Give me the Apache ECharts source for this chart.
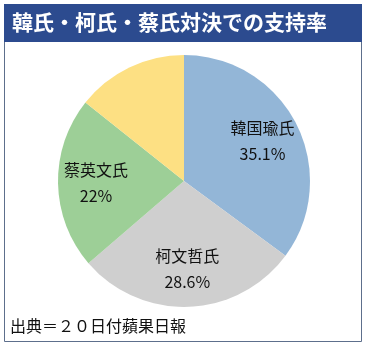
<!DOCTYPE html>
<html>
<head>
<meta charset="utf-8">
<script src="https://cdn.jsdelivr.net/npm/echarts@6/dist/echarts.min.js"></script>
<style>
  html, body { margin: 0; padding: 0; background: #ffffff; }
  #chart { width: 368px; height: 348px; }
</style>
</head>
<body>
<div id="chart"></div>
<script>
// Support shares in a three-way race
const candidates = ['韓国瑜氏', '柯文哲氏', '蔡英文氏', 'その他'];
const shares = [35.1, 28.6, 22, 14.3];
const sliceColors = ['#93b6d7', '#cfcfcf', '#9dcf97', '#fde083'];
const labelled = [true, true, true, false];

const titleText = '韓氏・柯氏・蔡氏対決での支持率';
const sourceText = '出典＝２０日付蘋果日報';

const FONT = '"Noto Sans CJK JP", "Noto Sans", sans-serif';

const chart = echarts.init(document.getElementById('chart'), null, { renderer: 'canvas' });

const sliceData = candidates.map((name, i) => ({
  name,
  value: shares[i],
  itemStyle: { color: sliceColors[i] }
}));

// Transparent ring on top of the pie, used only to place labels further out
const labelData = candidates.map((name, i) => ({
  name,
  value: shares[i],
  itemStyle: { color: 'rgba(0,0,0,0)' },
  label: { show: labelled[i] }
}));

chart.setOption({
  animation: false,
  graphic: [
    {
      type: 'rect',
      shape: { x: 4.5, y: 4.5, width: 357, height: 337 },
      style: { fill: '#ffffff', stroke: '#5d6f8c', lineWidth: 1 },
      z: 0
    },
    {
      type: 'rect',
      shape: { x: 4, y: 4, width: 358, height: 38 },
      style: { fill: '#2c4b8f' },
      z: 1
    },
    {
      type: 'text',
      left: 12,
      top: 12,
      style: {
        text: titleText,
        fill: '#ffffff',
        font: 'bold 21px ' + FONT
      },
      z: 2
    },
    {
      type: 'text',
      left: 10,
      top: 318,
      style: {
        text: sourceText,
        fill: '#111111',
        font: '16px ' + FONT
      },
      z: 2
    }
  ],
  series: [
    {
      type: 'pie',
      center: [184, 181],
      radius: [0, 126],
      startAngle: 90,
      clockwise: true,
      silent: true,
      label: { show: false },
      labelLine: { show: false },
      data: sliceData,
      z: 3
    },
    {
      type: 'pie',
      center: [184, 181],
      radius: [44, 126],
      startAngle: 90,
      clockwise: true,
      silent: true,
      label: {
        show: true,
        position: 'inside',
        formatter: (p) => p.name + '\n' + p.value + '%',
        color: '#111111',
        fontFamily: FONT,
        fontSize: 16,
        lineHeight: 26
      },
      labelLine: { show: false },
      data: labelData,
      z: 4
    }
  ]
});
</script>
</body>
</html>
